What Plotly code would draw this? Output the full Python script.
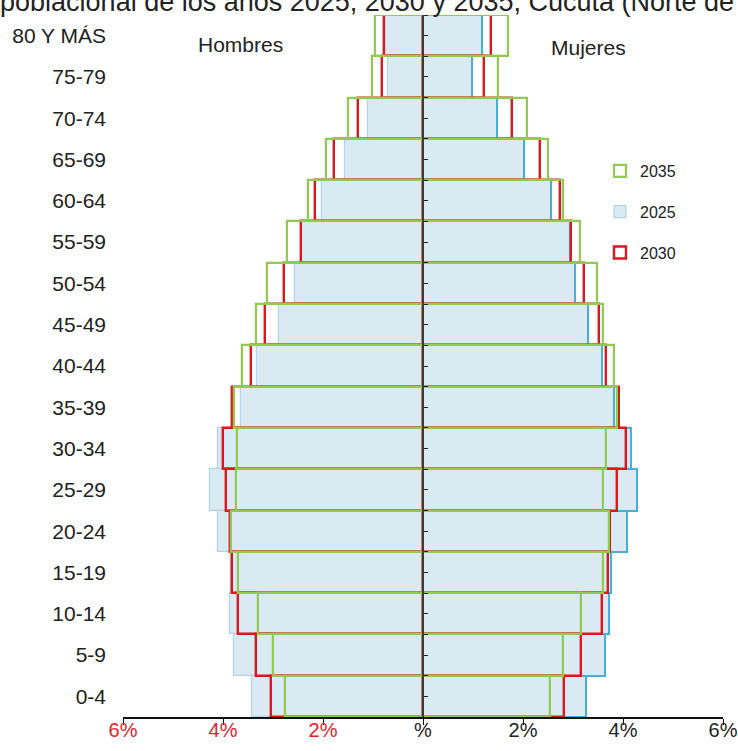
import plotly.graph_objects as go

# Age groups, bottom to top
age_groups = ["0-4", "5-9", "10-14", "15-19", "20-24", "25-29", "30-34", "35-39",
              "40-44", "45-49", "50-54", "55-59", "60-64", "65-69", "70-74", "75-79", "80 Y MÁS"]

# Percent of population (men drawn to the left)
men_2025 = [3.43, 3.79, 3.87, 3.85, 4.10, 4.27, 4.10, 3.65, 3.32, 2.88, 2.56, 2.42, 2.02, 1.56, 1.10, 0.70, 0.74]
men_2030 = [3.04, 3.35, 3.70, 3.82, 3.87, 3.94, 4.01, 3.82, 3.45, 3.16, 2.78, 2.45, 2.16, 1.78, 1.30, 0.83, 0.78]
men_2035 = [2.76, 3.01, 3.30, 3.70, 3.85, 3.74, 3.72, 3.78, 3.62, 3.35, 3.12, 2.72, 2.30, 1.94, 1.50, 1.02, 0.96]

women_2025 = [3.25, 3.63, 3.71, 3.76, 4.07, 4.28, 4.15, 3.82, 3.58, 3.30, 3.04, 2.93, 2.56, 2.02, 1.47, 0.98, 1.18]
women_2030 = [2.82, 3.15, 3.58, 3.70, 3.74, 3.87, 4.05, 3.92, 3.66, 3.51, 3.22, 2.96, 2.74, 2.33, 1.78, 1.22, 1.36]
women_2035 = [2.54, 2.80, 3.15, 3.60, 3.71, 3.60, 3.65, 3.87, 3.82, 3.60, 3.48, 3.14, 2.80, 2.50, 2.08, 1.50, 1.70]

x_tickvals = [-6, -4, -2, 0, 2, 4, 6]
x_ticktext = ['<span style="color:#e8222a">6%</span>', '<span style="color:#e8222a">4%</span>',
              '<span style="color:#e8222a">2%</span>', '%', '2%', '4%', '6%']

title_text = "Pirámide poblacional de los años 2025, 2030 y 2035, Cúcuta (Norte de Santander)"

BLUE_FILL = "#d9eaf3"
BLUE_LINE_F = "#45b0dc"
BLUE_LINE_M = "#b3d4e6"
RED = "#e0161d"
GREEN = "#92c951"
FONT = "Liberation Sans, Arial, sans-serif"

fig = go.Figure()

def neg(vals):
    return [-v for v in vals]

# 2025 (filled)
fig.add_trace(go.Bar(y=age_groups, x=neg(men_2025), orientation="h", name="2025",
                     marker=dict(color=BLUE_FILL, line=dict(color=BLUE_LINE_M, width=1.2)),
                     legendgroup="2025", showlegend=True, legendrank=2))
fig.add_trace(go.Bar(y=age_groups, x=women_2025, orientation="h", name="2025",
                     marker=dict(color=BLUE_FILL, line=dict(color=BLUE_LINE_F, width=2)),
                     legendgroup="2025", showlegend=False, legendrank=2))
# 2030 (red outline)
fig.add_trace(go.Bar(y=age_groups, x=neg(men_2030), orientation="h", name="2030",
                     marker=dict(color="rgba(0,0,0,0)", line=dict(color=RED, width=2.4)),
                     legendgroup="2030", showlegend=False, legendrank=3))
fig.add_trace(go.Bar(y=age_groups, x=women_2030, orientation="h", name="2030",
                     marker=dict(color="rgba(0,0,0,0)", line=dict(color=RED, width=2.4)),
                     legendgroup="2030", showlegend=True, legendrank=3))
# 2035 (green outline)
fig.add_trace(go.Bar(y=age_groups, x=neg(men_2035), orientation="h", name="2035",
                     marker=dict(color="rgba(0,0,0,0)", line=dict(color=GREEN, width=2.2)),
                     legendgroup="2035", showlegend=False, legendrank=1))
fig.add_trace(go.Bar(y=age_groups, x=women_2035, orientation="h", name="2035",
                     marker=dict(color="rgba(0,0,0,0)", line=dict(color=GREEN, width=2.2)),
                     legendgroup="2035", showlegend=True, legendrank=1))

n = len(age_groups)
center_ticks = [i * 0.5 - 0.5 for i in range(2 * n + 1)]

# empty trace so that the central axis (yaxis2) gets drawn
fig.add_trace(go.Scatter(x=[None], y=[None], yaxis="y2", mode="lines",
                         showlegend=False, hoverinfo="skip"))

fig.update_layout(
    width=738, height=751,
    margin=dict(l=123, r=15, t=15, b=34, autoexpand=False),
    paper_bgcolor="white", plot_bgcolor="white",
    barmode="overlay", bargap=0,
    font=dict(family=FONT, color="#222222"),
    xaxis=dict(range=[-6, 6], tickvals=x_tickvals, ticktext=x_ticktext,
               showline=True, linecolor="#111111", linewidth=1.5,
               ticks="outside", ticklen=6, tickcolor="#111111", tickwidth=1.2,
               ticklabelstandoff=-12,
               showgrid=False, zeroline=False, tickfont=dict(size=20, color="#222222"),
               automargin=False, fixedrange=True),
    yaxis=dict(type="category", categoryorder="array", categoryarray=age_groups,
               range=[-0.5, n - 0.5], showgrid=False, zeroline=False, showline=False,
               ticks="", tickfont=dict(size=21, color="#222222"), ticklabelstandoff=16,
               automargin=False),
    yaxis2=dict(overlaying="y", anchor="free", position=0.5, side="right",
                range=[-0.5, n - 0.5], showline=True, linecolor="#3a3a3a", linewidth=1.5,
                ticks="outside", ticklen=4, tickcolor="#222222", tickwidth=1.3,
                tickvals=center_ticks, showticklabels=False, showgrid=False,
                zeroline=False, layer="above traces", automargin=False),
    legend=dict(x=0.795, y=0.802, xanchor="left", yanchor="top",
                font=dict(size=16, color="#222222"), tracegroupgap=17,
                bgcolor="rgba(0,0,0,0)", itemwidth=30),
    showlegend=True,
    annotations=[
        dict(text="Hombres", x=0.195, y=0.958, xref="paper", yref="paper",
             xanchor="center", yanchor="middle",
             showarrow=False, font=dict(size=21, color="#222222")),
        dict(text="Mujeres", x=0.775, y=0.954, xref="paper", yref="paper",
             xanchor="center", yanchor="middle",
             showarrow=False, font=dict(size=21, color="#222222")),
        dict(text=title_text, x=0.429, y=1.0, xref="paper", yref="paper",
             xanchor="center", yanchor="bottom", yshift=-4, showarrow=False,
             font=dict(size=27, color="#222222")),
    ],
)

fig.write_html("out.html", config={"displayModeBar": False},
               post_script="document.body.style.margin='0';document.body.style.overflow='hidden';")
